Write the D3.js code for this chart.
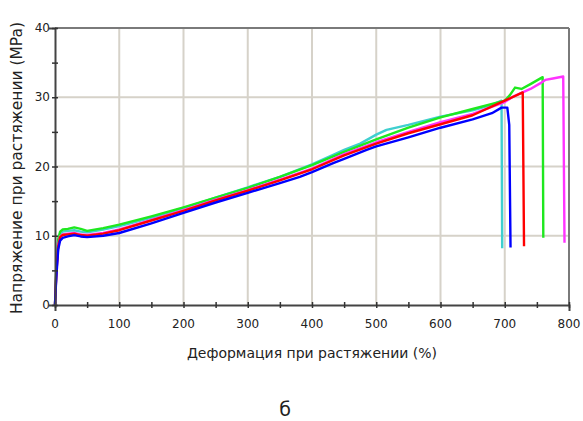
<!DOCTYPE html>
<html>
<head>
<meta charset="utf-8">
<script src="https://cdn.jsdelivr.net/npm/d3@7"></script>
<style>
  body { margin: 0; background: #fff; }
  svg { display: block; font-family: "DejaVu Sans", Verdana, sans-serif; }
  .grid line { stroke: #d6d2c9; stroke-width: 2; }
  .tick-label { font-size: 12px; fill: #222; }
  .axis-title { font-size: 14px; fill: #222; }
</style>
</head>
<body>
<div class="chart"></div>
<script>

// strain (%) / stress (MPa), one pair of arrays per sample
const strainCyan = [0, 2, 5, 8, 12, 20, 30, 40, 50, 75, 100, 150, 200, 250, 300, 350, 400, 433, 450, 475, 500, 516, 550, 600, 650, 680, 695, 696]
const stressCyan = [0, 5, 9.3, 10.3, 10.6, 10.7, 10.8, 10.6, 10.5, 10.9, 11.4, 12.6, 14.0, 15.5, 17.0, 18.5, 20.3, 21.7, 22.4, 23.3, 24.6, 25.3, 26.0, 27.2, 28.1, 28.9, 29.5, 8.2]

const strainGreen = [0, 2, 5, 8, 12, 20, 30, 40, 50, 75, 100, 150, 200, 250, 300, 350, 400, 450, 500, 550, 600, 650, 700, 708, 716, 726, 740, 759, 760]
const stressGreen = [0, 5, 9.5, 10.6, 10.9, 11.0, 11.2, 11.0, 10.7, 11.1, 11.6, 12.8, 14.1, 15.5, 16.9, 18.5, 20.2, 22.1, 23.9, 25.6, 27.1, 28.3, 29.5, 30.3, 31.4, 31.2, 31.9, 32.9, 9.7]

const strainMagenta = [0, 2, 5, 8, 12, 20, 30, 40, 50, 75, 100, 150, 200, 250, 300, 350, 400, 450, 500, 550, 600, 650, 700, 713, 740, 755, 763, 775, 791, 793]
const stressMagenta = [0, 4.5, 8.7, 9.9, 10.2, 10.3, 10.4, 10.2, 10.1, 10.4, 10.9, 12.3, 13.7, 15.2, 16.6, 18.1, 19.7, 21.8, 23.5, 25.0, 26.4, 27.6, 29.3, 30.1, 31.2, 32.0, 32.5, 32.7, 33.0, 9.0]

const strainRed = [0, 2, 5, 8, 12, 20, 30, 40, 50, 75, 100, 150, 200, 250, 300, 350, 400, 450, 500, 550, 600, 650, 700, 728, 730]
const stressRed = [0, 4.5, 8.5, 9.8, 10.1, 10.2, 10.3, 10.1, 10.0, 10.3, 10.8, 12.2, 13.6, 15.1, 16.5, 18.0, 19.6, 21.6, 23.3, 24.8, 26.1, 27.4, 29.5, 30.7, 8.5]

const strainBlue = [0, 2, 5, 8, 12, 20, 30, 40, 50, 75, 100, 150, 200, 250, 300, 350, 381, 400, 433, 450, 485, 500, 550, 600, 650, 680, 695, 704, 707, 709]
const stressBlue = [0, 4, 8, 9.3, 9.7, 9.9, 10.1, 9.9, 9.8, 10.0, 10.4, 11.8, 13.3, 14.8, 16.2, 17.6, 18.5, 19.2, 20.5, 21.1, 22.4, 22.9, 24.2, 25.6, 26.8, 27.7, 28.5, 28.5, 26, 8.3]

const xTicks = [0, 100, 200, 300, 400, 500, 600, 700, 800]
const yTicks = [0, 10, 20, 30, 40]

const series = [
    { name: "cyan", color: "#3fcfcf", x: strainCyan, y: stressCyan },
    { name: "green", color: "#1fe81f", x: strainGreen, y: stressGreen },
    { name: "magenta", color: "#ff33ff", x: strainMagenta, y: stressMagenta },
    { name: "red", color: "#ff0000", x: strainRed, y: stressRed },
    { name: "blue", color: "#0000ff", x: strainBlue, y: stressBlue }
]

const width = 583
const height = 421
const margin = { top: 28, right: 14, bottom: 116, left: 55 }

const svg = d3.select(".chart")
    .append("svg")
    .attr("width", width)
    .attr("height", height)

const xScale = d3.scaleLinear()
    .domain([0, 800])
    .range([margin.left, width - margin.right])

const yScale = d3.scaleLinear()
    .domain([0, 40])
    .range([height - margin.bottom, margin.top])

// grid
const grid = svg.append("g").attr("class", "grid")

grid.selectAll(".gx")
    .data(xTicks.slice(1, -1))
    .join("line")
    .attr("x1", d => xScale(d))
    .attr("x2", d => xScale(d))
    .attr("y1", yScale(40))
    .attr("y2", yScale(0))

grid.selectAll(".gy")
    .data(yTicks.slice(1, -1))
    .join("line")
    .attr("x1", xScale(0))
    .attr("x2", xScale(800))
    .attr("y1", d => yScale(d))
    .attr("y2", d => yScale(d))

// frame: top and right lighter, axes darker
svg.append("line")
    .attr("x1", xScale(0)).attr("x2", xScale(800))
    .attr("y1", yScale(40)).attr("y2", yScale(40))
    .attr("stroke", "#7a7a7a").attr("stroke-width", 2)

svg.append("line")
    .attr("x1", xScale(800)).attr("x2", xScale(800))
    .attr("y1", yScale(40)).attr("y2", yScale(0))
    .attr("stroke", "#7a7a7a").attr("stroke-width", 2)

// curves
const line = d3.line()
    .x(d => xScale(d[0]))
    .y(d => yScale(d[1]))

svg.append("g")
    .selectAll("path")
    .data(series)
    .join("path")
    .attr("d", s => line(s.x.map((v, i) => [v, s.y[i]])))
    .attr("fill", "none")
    .attr("stroke", s => s.color)
    .attr("stroke-width", 2.4)
    .attr("stroke-linejoin", "round")

// axes (ticks cross the axis line)
const xAxis = d3.axisBottom(xScale)
    .tickValues(d3.range(0, 801, 50))
    .tickSize(6)
    .tickFormat("")

const xAxisGroup = svg.append("g")
    .attr("transform", `translate(0, ${yScale(0)})`)
    .call(xAxis)

xAxisGroup.selectAll(".tick line").attr("y1", -3).attr("y2", 3)

const yAxis = d3.axisLeft(yScale)
    .tickValues(d3.range(0, 41, 5))
    .tickSize(6)
    .tickFormat("")

const yAxisGroup = svg.append("g")
    .attr("transform", `translate(${xScale(0)}, 0)`)
    .call(yAxis)

yAxisGroup.selectAll(".tick line").attr("x1", -3).attr("x2", 3)

svg.selectAll(".domain").attr("stroke", "#444").attr("stroke-width", 2)
svg.selectAll(".tick line").attr("stroke", "#333").attr("stroke-width", 1.5)

// tick labels
svg.append("g")
    .selectAll("text")
    .data(xTicks)
    .join("text")
    .attr("class", "tick-label")
    .attr("x", d => xScale(d))
    .attr("y", yScale(0) + 23)
    .attr("text-anchor", "middle")
    .text(d => d)

svg.append("g")
    .selectAll("text")
    .data(yTicks)
    .join("text")
    .attr("class", "tick-label")
    .attr("x", xScale(0) - 5)
    .attr("y", d => yScale(d) + 4)
    .attr("text-anchor", "end")
    .text(d => d)

// titles
svg.append("text")
    .attr("class", "axis-title")
    .attr("x", 312)
    .attr("y", 358)
    .attr("text-anchor", "middle")
    .text("Деформация при растяжении (%)")

svg.append("text")
    .attr("class", "axis-title")
    .attr("transform", `translate(22, 168) rotate(-90)`)
    .attr("text-anchor", "middle")
    .attr("font-size", 15)
    .style("font-size", "15.5px")
    .text("Напряжение при растяжении (MPa)")

svg.append("text")
    .attr("x", 285)
    .attr("y", 416)
    .attr("text-anchor", "middle")
    .attr("font-size", 19)
    .attr("fill", "#222")
    .text("б")

</script>
</body>
</html>
